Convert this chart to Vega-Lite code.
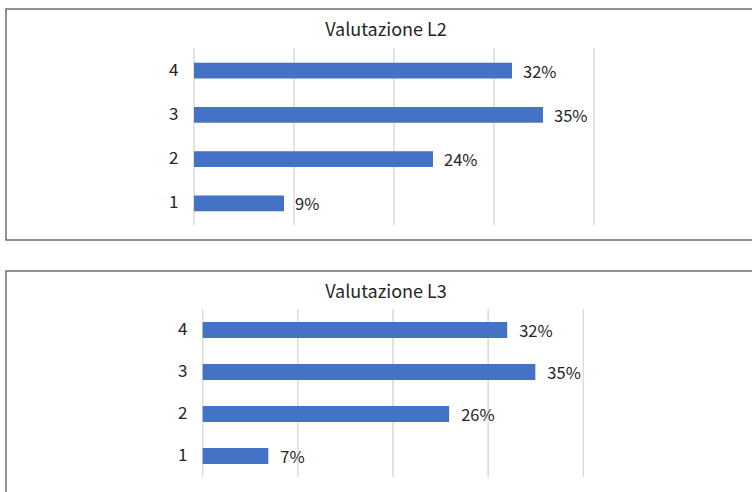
{
  "$schema": "https://vega.github.io/schema/vega-lite/v6.json",
  "background": "white",
  "padding": {"left": 5, "top": 8, "right": 0, "bottom": 0},
  "spacing": 29,
  "datasets": {
    "l2": [
      {"cat": "4", "v": 0.318},
      {"cat": "3", "v": 0.349},
      {"cat": "2", "v": 0.239},
      {"cat": "1", "v": 0.09}
    ],
    "l3": [
      {"cat": "4", "v": 0.32},
      {"cat": "3", "v": 0.3496},
      {"cat": "2", "v": 0.259},
      {"cat": "1", "v": 0.069}
    ],
    "grid": [
      {"g": 0, "cat": "4"}, {"g": 0, "cat": "3"}, {"g": 0, "cat": "2"}, {"g": 0, "cat": "1"},
      {"g": 0.1, "cat": "4"}, {"g": 0.1, "cat": "3"}, {"g": 0.1, "cat": "2"}, {"g": 0.1, "cat": "1"},
      {"g": 0.2, "cat": "4"}, {"g": 0.2, "cat": "3"}, {"g": 0.2, "cat": "2"}, {"g": 0.2, "cat": "1"},
      {"g": 0.3, "cat": "4"}, {"g": 0.3, "cat": "3"}, {"g": 0.3, "cat": "2"}, {"g": 0.3, "cat": "1"},
      {"g": 0.4, "cat": "4"}, {"g": 0.4, "cat": "3"}, {"g": 0.4, "cat": "2"}, {"g": 0.4, "cat": "1"}
    ]
  },
  "vconcat": [
    {
      "width": 760,
      "height": 231,
      "title": {"text": "Valutazione L2", "anchor": "middle", "frame": "group", "offset": -31, "fontSize": 18, "fontWeight": "normal", "color": "#262626"},
      "layer": [
        {
          "data": {"name": "grid"},
          "mark": {"type": "bar", "fill": null, "fillOpacity": 0, "stroke": "#d9d9d9", "strokeWidth": 1},
          "encoding": {
            "x": {"field": "g", "type": "quantitative", "scale": {"domain": [-0.188, 0.572], "nice": false, "zero": false}, "axis": null},
            "x2": {"field": "g"},
            "y": {"field": "cat", "type": "nominal", "sort": ["4", "3", "2", "1"],
                  "scale": {"type": "band", "domain": ["4", "3", "2", "1"], "paddingInner": 0, "paddingOuter": 0.61, "align": 0.731},
                  "axis": {"title": null, "domain": false, "ticks": false, "tickSize": 0, "labelPadding": 0, "offset": -172, "labelFontSize": 17, "labelColor": "#262626", "grid": false}}
          }
        },
        {
          "data": {"name": "l2"},
          "mark": {"type": "bar", "color": "#4472C4", "height": {"band": 0.36}},
          "encoding": {
            "x": {"field": "v", "type": "quantitative"},
            "y": {"field": "cat", "type": "nominal"}
          }
        },
        {
          "data": {"name": "l2"},
          "mark": {"type": "text", "align": "left", "baseline": "middle", "dx": 11, "dy": 2, "fontSize": 16.5, "color": "#262626"},
          "encoding": {
            "x": {"field": "v", "type": "quantitative"},
            "y": {"field": "cat", "type": "nominal"},
            "text": {"field": "v", "type": "quantitative", "format": ".0%"}
          }
        }
      ]
    },
    {
      "width": 760,
      "height": 240,
      "title": {"text": "Valutazione L3", "anchor": "middle", "frame": "group", "offset": -31, "fontSize": 18, "fontWeight": "normal", "color": "#262626"},
      "layer": [
        {
          "data": {"name": "grid"},
          "mark": {"type": "bar", "fill": null, "fillOpacity": 0, "stroke": "#d9d9d9", "strokeWidth": 1},
          "encoding": {
            "x": {"field": "g", "type": "quantitative", "scale": {"domain": [-0.2067, 0.592], "nice": false, "zero": false}, "axis": null},
            "x2": {"field": "g"},
            "y": {"field": "cat", "type": "nominal", "sort": ["4", "3", "2", "1"],
                  "scale": {"type": "band", "domain": ["4", "3", "2", "1"], "paddingInner": 0, "paddingOuter": 0.857, "align": 0.528},
                  "axis": {"title": null, "domain": false, "ticks": false, "tickSize": 0, "labelPadding": 0, "offset": -181, "labelFontSize": 17, "labelColor": "#262626", "grid": false}}
          }
        },
        {
          "data": {"name": "l3"},
          "mark": {"type": "bar", "color": "#4472C4", "height": {"band": 0.38}},
          "encoding": {
            "x": {"field": "v", "type": "quantitative"},
            "y": {"field": "cat", "type": "nominal"}
          }
        },
        {
          "data": {"name": "l3"},
          "mark": {"type": "text", "align": "left", "baseline": "middle", "dx": 12, "dy": 2, "fontSize": 16.5, "color": "#262626"},
          "encoding": {
            "x": {"field": "v", "type": "quantitative"},
            "y": {"field": "cat", "type": "nominal"},
            "text": {"field": "v", "type": "quantitative", "format": ".0%"}
          }
        }
      ]
    }
  ],
  "config": {
    "font": "Noto Sans CJK SC",
    "view": {"stroke": "#6e6e6e", "strokeWidth": 1.5}
  }
}
